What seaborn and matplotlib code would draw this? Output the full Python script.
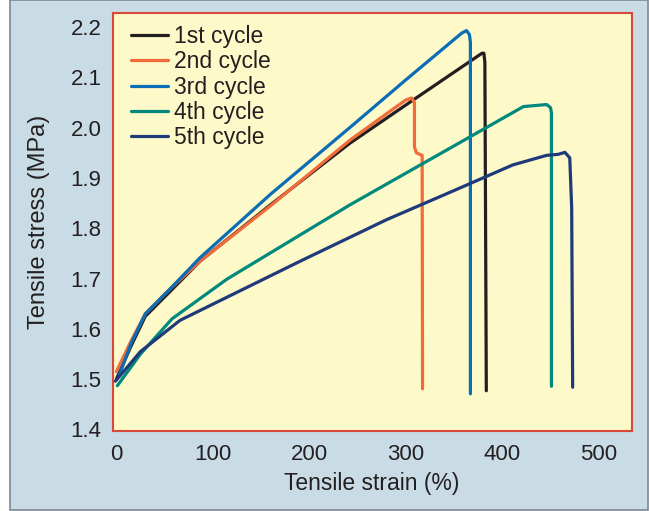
import numpy as np
import pandas as pd
import matplotlib
matplotlib.use("Agg")
import matplotlib.pyplot as plt
from matplotlib.patches import Rectangle
import seaborn as sns

cycles = ["1st cycle", "2nd cycle", "3rd cycle", "4th cycle", "5th cycle"]
colors = ["#231f20", "#f26b3a", "#0b6db6", "#00897c", "#1e3a7b"]

strain_1 = [0, 15, 30, 56, 87, 160, 242, 300, 379, 381, 382, 383.5]
stress_1 = [1.50, 1.565, 1.625, 1.675, 1.735, 1.847, 1.969, 2.045, 2.148, 2.148, 2.13, 1.477]

strain_2 = [0, 15, 30, 56, 87, 160, 242, 289, 300, 306, 309, 309, 311, 317, 317.4]
stress_2 = [1.515, 1.575, 1.63, 1.68, 1.735, 1.845, 1.975, 2.04, 2.055, 2.059, 2.05, 1.962, 1.95, 1.945, 1.481]

strain_3 = [3, 15, 30, 56, 87, 160, 242.5, 300, 358, 363, 366, 367, 367]
stress_3 = [1.508, 1.57, 1.63, 1.68, 1.742, 1.868, 2.001, 2.095, 2.188, 2.193, 2.185, 2.17, 1.471]

strain_4 = [1, 25, 57.7, 114.7, 242.5, 422, 446, 450, 451, 451]
stress_4 = [1.487, 1.55, 1.62, 1.699, 1.847, 2.042, 2.046, 2.04, 2.03, 1.486]

strain_5 = [-1, 25, 66, 120, 191, 280, 350, 411, 446, 458, 465, 470, 472, 473]
stress_5 = [1.496, 1.555, 1.617, 1.668, 1.735, 1.817, 1.875, 1.926, 1.945, 1.947, 1.951, 1.94, 1.84, 1.484]

xticks = [0, 100, 200, 300, 400, 500]
yticks = [1.4, 1.5, 1.6, 1.7, 1.8, 1.9, 2.0, 2.1, 2.2]

frames = []
for name, xs, ys in zip(cycles,
                        [strain_1, strain_2, strain_3, strain_4, strain_5],
                        [stress_1, stress_2, stress_3, stress_4, stress_5]):
    frames.append(pd.DataFrame({"strain": xs, "stress": ys, "cycle": name,
                                "order": range(len(xs))}))
df = pd.concat(frames, ignore_index=True)

sns.set_theme(style="white")
plt.rcParams["font.family"] = ["Liberation Sans", "DejaVu Sans"]

fig = plt.figure(figsize=(6.49, 5.11), dpi=100, facecolor="white")
fig.patches.append(Rectangle((10 / 649, 1.5 / 511), 1 - 11.5 / 649, 1 - 1.5 / 511,
                             transform=fig.transFigure, facecolor="#c9dce6",
                             edgecolor="#7d8791", linewidth=1.2, zorder=-10))
ax = fig.add_axes([112.5 / 649, (511 - 430.5) / 511, (631.5 - 112.5) / 649, (430.5 - 13) / 511])
ax.set_facecolor("#fef9c8")

sns.lineplot(data=df, x="strain", y="stress", hue="cycle", units="cycle",
             sort=False, estimator=None, palette=dict(zip(cycles, colors)),
             linewidth=2.3, ax=ax, legend=True)

ax.set_xlim(-4, 534)
ax.set_ylim(1.398, 2.228)
ax.set_xticks(xticks)
ax.set_xticklabels([str(v) for v in xticks])
ax.set_yticks(yticks)
ax.set_yticklabels([f"{v:.1f}" for v in yticks])
ax.tick_params(axis="both", length=0, labelsize=16, colors="#231f20")
ax.tick_params(axis="x", pad=10)
ax.tick_params(axis="y", pad=8)
ax.set_xlabel("Tensile strain (%)", fontsize=16.5, color="#231f20", labelpad=5)
ax.set_ylabel("Tensile stress (MPa)", fontsize=17, color="#231f20", labelpad=15)
for s in ax.spines.values():
    s.set_color("#d9483b")
    s.set_linewidth(1.5)

leg = ax.legend(loc="upper left", bbox_to_anchor=(9 / 519, 1 - 3 / 417.5), frameon=False,
                fontsize=16.5, handlelength=1.65, handletextpad=0.25,
                labelspacing=0.1, borderaxespad=0.25, borderpad=0.15, title=None)
for h in leg.get_lines():
    h.set_linewidth(2.3)
for t in leg.get_texts():
    t.set_color("#231f20")

fig.savefig("out.png", dpi=100, facecolor=fig.get_facecolor())
